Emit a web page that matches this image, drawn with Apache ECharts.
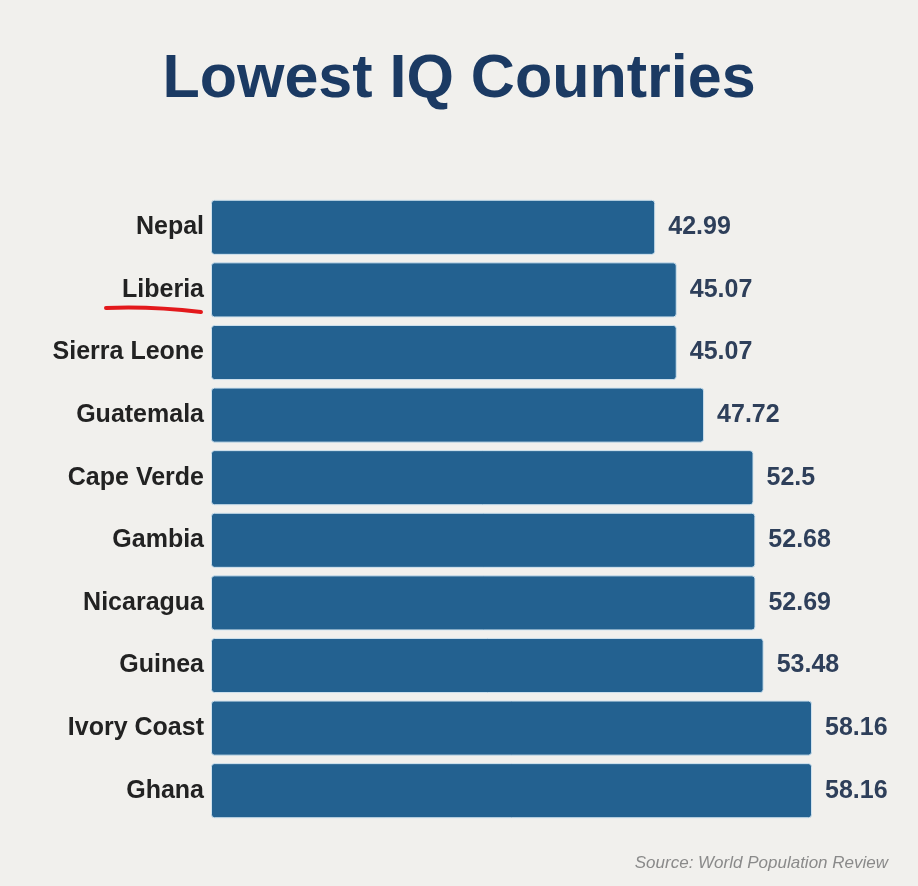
<!DOCTYPE html>
<html>
<head>
<meta charset="utf-8">
<script src="https://cdn.jsdelivr.net/npm/echarts@6/dist/echarts.min.js"></script>
<style>
    html, body { margin: 0; padding: 0; background: #f1f0ed; }
    #chart { width: 918px; height: 886px; }
</style>
</head>
<body>
<div id="chart"></div>
<script>
    // data
    const countries = ['Nepal', 'Liberia', 'Sierra Leone', 'Guatemala', 'Cape Verde',
        'Gambia', 'Nicaragua', 'Guinea', 'Ivory Coast', 'Ghana']
    const iqScores = [42.99, 45.07, 45.07, 47.72, 52.5, 52.68, 52.69, 53.48, 58.16, 58.16]

    const FONT = '"Liberation Sans", Arial, sans-serif'
    const myChart = echarts.init(document.getElementById('chart'))

    const option = {
        backgroundColor: '#f1f0ed',
        title: {
            text: 'Lowest IQ Countries',
            left: 'center',
            top: 45,
            textStyle: {
                fontFamily: FONT,
                fontSize: 61,
                fontWeight: 'bold',
                color: '#1b3a63'
            }
        },
        grid: {
            top: 196,
            left: 211,
            right: 87,
            bottom: 64,
            containLabel: false
        },
        xAxis: {
            type: 'value',
            min: 0,
            max: 60,
            show: false
        },
        yAxis: {
            type: 'category',
            inverse: true,
            data: countries,
            axisLine: { show: false },
            axisTick: { show: false },
            axisLabel: {
                margin: 7,
                fontFamily: FONT,
                fontSize: 25,
                fontWeight: 'bold',
                color: '#222222'
            }
        },
        series: [{
            type: 'bar',
            data: iqScores,
            barCategoryGap: '12%',
            itemStyle: {
                color: '#236190',
                borderColor: '#cfe2ee',
                borderWidth: 1,
                borderRadius: 3
            },
            label: {
                show: true,
                position: 'right',
                distance: 13,
                fontFamily: FONT,
                fontSize: 25,
                fontWeight: 'bold',
                color: '#2e3f5a'
            }
        }],
        graphic: [
            {
                // red hand-drawn underline under Liberia
                type: 'bezierCurve',
                shape: { x1: 106, y1: 308, cpx1: 150, cpy1: 306, x2: 201, y2: 312 },
                style: { stroke: '#e3191c', lineWidth: 4, lineCap: 'round', fill: null }
            },
            {
                type: 'text',
                right: 30,
                top: 855,
                style: {
                    text: 'Source: World Population Review',
                    font: 'italic 17px "Liberation Sans", Arial, sans-serif',
                    fill: '#8a8a8a'
                }
            }
        ]
    }

    myChart.setOption(option)
</script>
</body>
</html>
